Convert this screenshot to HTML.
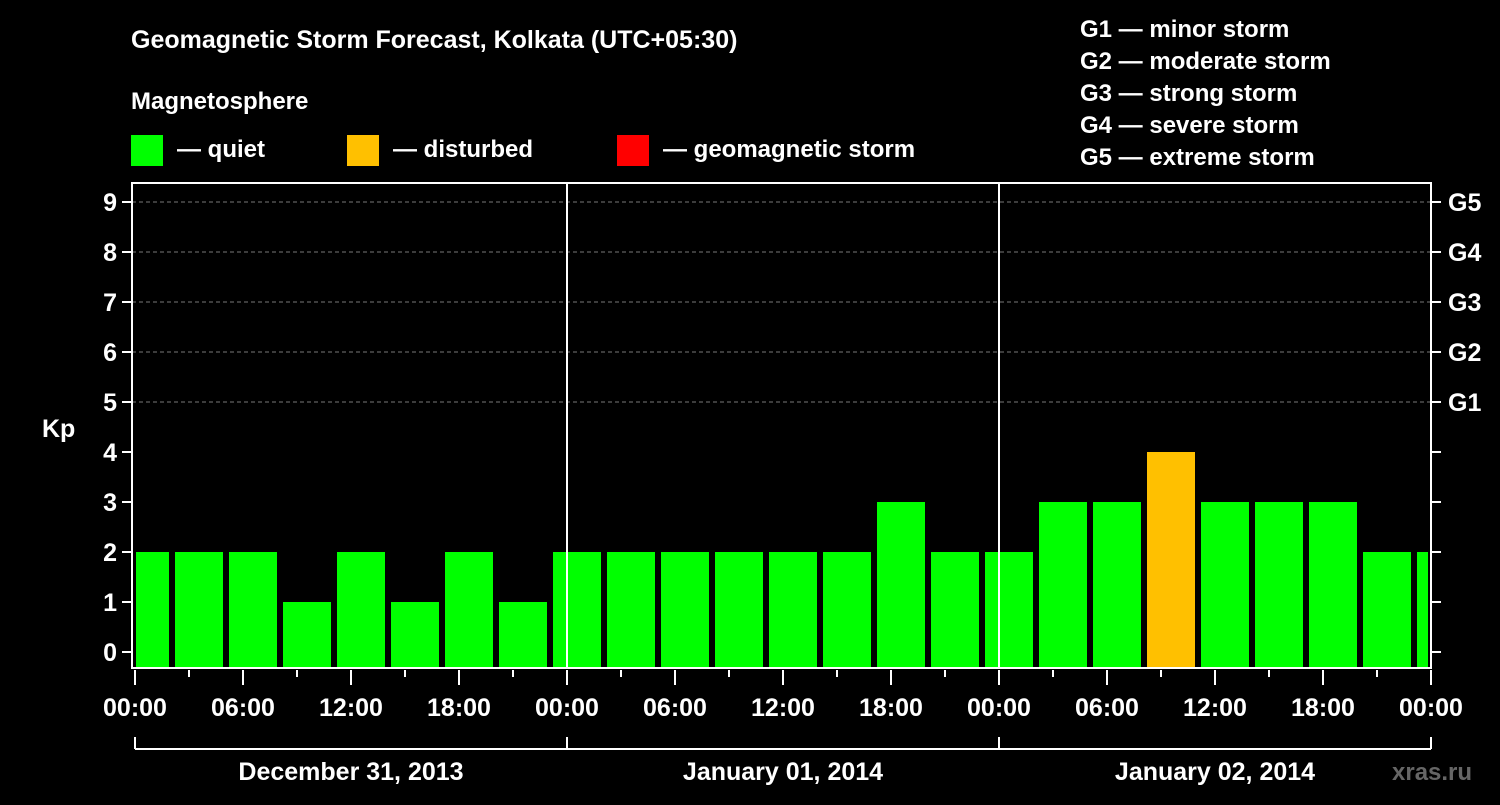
<!DOCTYPE html>
<html><head><meta charset="utf-8"><style>
body{margin:0;background:#000;width:1500px;height:800px;overflow:hidden}
text{font-family:"Liberation Sans",sans-serif;font-weight:bold;fill:#fff}
</style></head><body>
<svg id="chart" width="1500" height="800" xmlns="http://www.w3.org/2000/svg">
<text x="131" y="48" font-size="25">Geomagnetic Storm Forecast, Kolkata (UTC+05:30)</text>
<text x="131" y="109" font-size="24">Magnetosphere</text>
<g>
<rect x="131" y="135" width="32" height="31" fill="#00ff00"/>
<text x="177" y="157" font-size="24">— quiet</text>
<rect x="347" y="135" width="32" height="31" fill="#ffc000"/>
<text x="393" y="157" font-size="24">— disturbed</text>
<rect x="617" y="135" width="32" height="31" fill="#ff0000"/>
<text x="663" y="157" font-size="24">— geomagnetic storm</text>
</g>
<g font-size="24">
<text x="1080" y="37">G1 — minor storm</text>
<text x="1080" y="69">G2 — moderate storm</text>
<text x="1080" y="101">G3 — strong storm</text>
<text x="1080" y="133">G4 — severe storm</text>
<text x="1080" y="165">G5 — extreme storm</text>
</g>
<text x="42" y="437" font-size="25">Kp</text>
<text x="1392" y="780" font-size="24" style="fill:#666">xras.ru</text>
<g id="plot"></g>
</svg>
<script>
const kpValues=[2,2,2,1,2,1,2,1,2,2,2,2,2,2,3,2,2,3,3,4,3,3,3,2,2];
const yTicks=[0,1,2,3,4,5,6,7,8,9];
const gLabels=["G1","G2","G3","G4","G5"];
const gLevels=[5,6,7,8,9];
const xTickLabels=["00:00","06:00","12:00","18:00","00:00","06:00","12:00","18:00","00:00","06:00","12:00","18:00","00:00"];
const dayLabels=["December 31, 2013","January 01, 2014","January 02, 2014"];
const firstBinStartHour=-0.8333;
const binHours=3;

const NS="http://www.w3.org/2000/svg";
const X0=135,PXH=18,L=132,R=1431,T=183,B=668;
const xs=h=>X0+h*PXH;
const ys=v=>652-v*50;
const g=document.getElementById('plot');
function mk(tag,a,txt){const e=document.createElementNS(NS,tag);for(const k in a)e.setAttribute(k,a[k]);if(txt!==undefined)e.textContent=txt;g.appendChild(e);return e;}
// gridlines
gLevels.forEach(v=>{
 const e=mk('line',{x1:L,x2:R,y1:ys(v),y2:ys(v),stroke:'#777','stroke-dasharray':'4,3','stroke-width':1});
 
 
});
// bars
kpValues.forEach((v,i)=>{
 const s=firstBinStartHour+i*binHours;
 let x1=xs(s)+1,x2=xs(s+binHours)-5;
 x1=Math.max(x1,L+4);x2=Math.min(x2,R-3);
 if(x2<=x1)return;
 const col=v>=5?'#ff0000':(v>=4?'#ffc000':'#00ff00');
 const e=mk('rect',{x:x1,y:ys(v),width:x2-x1,height:B-ys(v),fill:col});
 
 
});
// day separators
[1,2].forEach(d=>{
 const e=mk('line',{x1:xs(d*24),x2:xs(d*24),y1:T,y2:B,stroke:'#fff','stroke-width':2});
 
 
});
// frame
const fr=mk('rect',{x:L,y:T,width:R-L,height:B-T,fill:'none',stroke:'#fff','stroke-width':2});


// y ticks
yTicks.forEach(v=>{
 mk('line',{x1:122,x2:L,y1:ys(v),y2:ys(v),stroke:'#fff','stroke-width':2});
 mk('line',{x1:R,x2:R+10,y1:ys(v),y2:ys(v),stroke:'#fff','stroke-width':2});
 const t=mk('text',{x:117,y:ys(v)+9,'text-anchor':'end','font-size':25},String(v));
 
 
});
gLabels.forEach((lab,i)=>{
 const t=mk('text',{x:1448,y:ys(gLevels[i])+9,'font-size':25},lab);
 
 
});
// x ticks
for(let h=0;h<=72;h+=3){
 const major=h%6===0;
 mk('line',{x1:xs(h),x2:xs(h),y1:670,y2:major?685:677,stroke:'#fff','stroke-width':2});
}
xTickLabels.forEach((lab,i)=>{
 const t=mk('text',{x:xs(i*6),y:716,'text-anchor':'middle','font-size':25},lab);
 
 
});
// day bracket
mk('line',{x1:xs(0),x2:xs(72),y1:749,y2:749,stroke:'#fff','stroke-width':2});
for(let d=0;d<=3;d++)mk('line',{x1:xs(d*24),x2:xs(d*24),y1:737,y2:749,stroke:'#fff','stroke-width':2});
dayLabels.forEach((lab,i)=>{
 const t=mk('text',{x:xs(i*24+12),y:780,'text-anchor':'middle','font-size':25},lab);
 
 
});
</script>
</body></html>
